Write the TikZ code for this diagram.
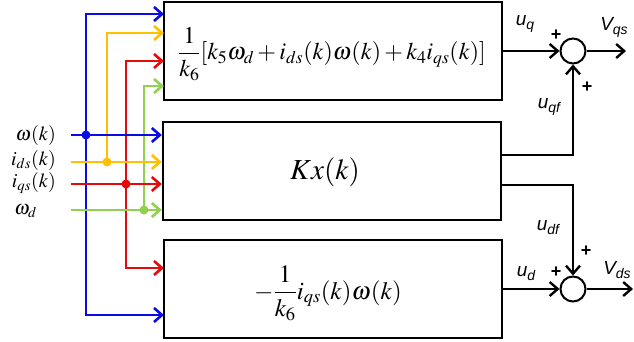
\documentclass[tikz,border=0pt]{standalone}
\usepackage{mathptmx}
\usepackage{fontspec}
\usetikzlibrary{arrows.meta}
\newfontfamily\labfont{Liberation Sans}
\newcommand\lsub[1]{\raisebox{-0.4ex}{\fontsize{14}{15}\selectfont #1}}
\definecolor{cblue}{RGB}{10,10,230}
\definecolor{cyel}{RGB}{255,192,0}
\definecolor{cred}{RGB}{230,10,10}
\definecolor{cgreen}{RGB}{146,208,80}
\tikzset{
  blk/.style={draw,line width=2.4pt,minimum width=338pt,minimum height=98pt,inner sep=0pt},
  formula/.style={inner sep=0pt,font=\fontsize{24}{26}\selectfont},
  sumc/.style={draw,line width=2pt,circle,minimum size=25pt,inner sep=0pt},
  sig/.style={line width=2.8pt,-{Straight Barb[length=8pt,width=14pt,line width=2.6pt]}},
  blk arrow/.style={line width=2.4pt,-{Straight Barb[length=8pt,width=14pt,line width=2.4pt]}},
  dot/.style={circle,fill,inner sep=0pt,minimum size=9pt},
  inlab/.style={anchor=east,inner sep=0pt,font=\fontsize{20}{22}\selectfont},
  sflab/.style={inner sep=0pt,font=\fontsize{19}{21}\selectfont\labfont\itshape},
  plus/.style={inner sep=0pt,font=\fontsize{18}{20}\selectfont\labfont\bfseries}
}
\begin{document}
\begin{tikzpicture}[x=1pt,y=-1pt]
\useasboundingbox (0,0) rectangle (634,342);
% blocks
\node[blk] (B1) at (333,51) {};
\node[blk] (B2) at (332,171) {};
\node[blk] (B3) at (333,289) {};
\node[formula] (F1) at (332,54) {$\displaystyle\frac{1}{k_6}[k_5\omega_d+i_{ds}(k)\omega(k)+k_4i_{qs}(k)]$};
\node[formula,font=\fontsize{29}{31}\selectfont] (F2) at (325,172) {$Kx(k)$};
\node[formula,font=\fontsize{25}{27}\selectfont] (F3) at (328,293) {$\displaystyle-\frac{1}{k_6}i_{qs}(k)\omega(k)$};
\node[sumc] (S1) at (573,51) {};
\node[sumc] (S2) at (573,289) {};
% input coordinates
\coordinate (in1) at (71,135);
\coordinate (in2) at (71,162);
\coordinate (in3) at (71,184);
\coordinate (in4) at (71,210);
\coordinate (jb) at (86,135);
\coordinate (jy) at (107,162);
\coordinate (jr) at (126,184);
\coordinate (jg) at (144,210);
\coordinate (t1) at (164,14);
\coordinate (t2) at (164,33);
\coordinate (t3) at (164,61);
\coordinate (t4) at (164,86);
\coordinate (b1) at (164,315);
\coordinate (b2) at (164,268);
% input labels
\node[inlab] (l1) at (56,135) {$\omega(k)$};
\node[inlab] (l2) at (56,160) {$i_{ds}(k)$};
\node[inlab] (l3) at (56,183) {$i_{qs}(k)$};
\node[inlab] (l4) at (37,211) {$\omega_d$};
% colored signal lines
\draw[sig,cblue] (jb) |- (t1);
\draw[sig,cblue] (jb) |- (b1);
\draw[sig,cyel] (jy) |- (t2);
\draw[sig,cred] (jr) |- (t3);
\draw[sig,cred] (jr) |- (b2);
\draw[sig,cgreen] (jg) |- (t4);
\draw[sig,cblue] (in1) -- (in1 -| B2.west);
\draw[sig,cyel] (in2) -- (in2 -| B2.west);
\draw[sig,cred] (in3) -- (in3 -| B2.west);
\draw[sig,cgreen] (in4) -- (in4 -| B2.west);
\node[dot,cblue] (d1) at (jb) {};
\node[dot,cyel] (d2) at (jy) {};
\node[dot,cred] (d3) at (jr) {};
\node[dot,cgreen] (d4) at (jg) {};
% outputs
\coordinate (o1) at (501,155);
\coordinate (o2) at (501,185);
\coordinate (vq) at (626,51);
\coordinate (vd) at (633,289);
\draw[blk arrow] (B1.east) -- (S1.west);
\draw[blk arrow] (o1) -| (S1.south);
\draw[blk arrow] (o2) -| (S2.north);
\draw[blk arrow] (B3.east) -- (S2.west);
\draw[blk arrow] (S1.east) -- (vq);
\draw[blk arrow] (S2.east) -- (vd);
% labels
\node[sflab] (uq) at (525,24) {u\lsub{q}};
\node[sflab] (vqs) at (614,27) {V\lsub{qs}};
\node[plus] (p1) at (556,35) {+};
\node[plus] (p2) at (587,87) {+};
\node[sflab] (uqf) at (549,107) {u\lsub{qf}};
\node[sflab] (udf) at (548,228) {u\lsub{df}};
\node[plus] (p3) at (586,251) {+};
\node[sflab] (ud) at (526,274) {u\lsub{d}};
\node[plus] (p4) at (556,272) {+};
\node[sflab] (vds) at (617,270) {V\lsub{ds}};
\end{tikzpicture}
\end{document}
